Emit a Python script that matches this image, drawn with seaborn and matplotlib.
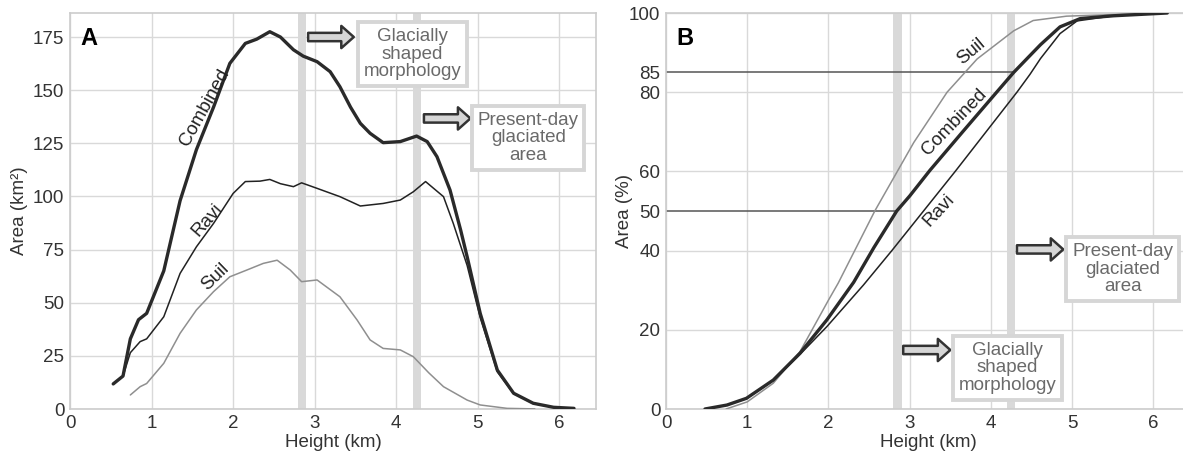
import matplotlib
matplotlib.use("Agg")
import matplotlib.pyplot as plt
import seaborn as sns
import pandas as pd

# ---------------- data ----------------
# Panel A: hypsometry, area per height bin (km2)
comb_x = [0.53, 0.65, 0.74, 0.84, 0.94, 1.15, 1.35, 1.55, 1.76, 1.96, 2.15, 2.29, 2.45, 2.58, 2.74, 2.86,
          3.03, 3.19, 3.31, 3.44, 3.56, 3.68, 3.84, 4.05, 4.25, 4.38, 4.50, 4.66, 4.79, 4.87, 5.03, 5.24,
          5.44, 5.68, 5.93, 6.18]
comb_y = [11.8, 15.5, 33, 42, 45, 65, 98, 122, 142, 162.6, 172, 174, 177.5, 175, 169, 166,
          163.4, 158.7, 151.6, 142, 134.4, 129.7, 125.3, 125.8, 128.4, 125.8, 118.7, 103, 84.2, 71.6, 45, 18.3,
          7.4, 2.7, 0.8, 0.3]

ravi_x = [0.53, 0.65, 0.74, 0.86, 0.94, 1.15, 1.35, 1.55, 1.76, 2.0, 2.15, 2.33, 2.45, 2.58, 2.74, 2.84,
          3.03, 3.31, 3.56, 3.84, 4.05, 4.21, 4.36, 4.58, 4.70, 4.87, 5.03, 5.24, 5.44, 5.68, 5.93, 6.18]
ravi_y = [11.8, 15.5, 26.5, 31.7, 33, 43.4, 63.8, 76.3, 87.3, 101.4, 107, 107.2, 108, 106, 104.6, 106.4,
          103.8, 99.9, 95.5, 96.7, 98.3, 102.2, 107, 99.9, 87.3, 67.5, 43, 17.5, 7.2, 2.6, 0.8, 0.3]

suil_x = [0.74, 0.86, 0.94, 1.15, 1.35, 1.55, 1.76, 1.96, 2.17, 2.37, 2.54, 2.70, 2.84, 3.03, 3.31, 3.52,
          3.68, 3.84, 4.05, 4.21, 4.40, 4.58, 4.87, 5.03, 5.36, 5.70]
suil_y = [6.6, 10.5, 12, 21.5, 35.6, 46.6, 55.2, 62.2, 65.4, 68.5, 70, 65.4, 59.9, 60.7, 52.8, 41.9,
          32.5, 28.5, 27.8, 24.6, 17, 10.5, 4.2, 1.9, 0.3, 0.05]

# Panel B: cumulative area (%)
b_comb_x = [0.48, 0.75, 0.99, 1.32, 1.65, 1.98, 2.31, 2.56, 2.84, 3.0, 3.25, 3.66, 4.07, 4.28, 4.44, 4.61,
            4.85, 5.10, 5.51, 6.17]
b_comb_y = [0.0, 1.0, 2.7, 7.3, 14.1, 22.5, 32, 40.8, 50, 53.8, 60.3, 70.2, 80, 85, 88.4, 92,
            96.5, 98.6, 99.3, 100]

b_ravi_x = [0.48, 0.75, 0.99, 1.32, 1.65, 1.98, 2.43, 2.78, 3.17, 3.56, 3.94, 4.32, 4.48, 4.61, 4.85, 5.06,
            5.51, 6.17]
b_ravi_y = [0.0, 1.0, 2.6, 7.2, 13.8, 20.8, 31.3, 40, 50, 60, 70, 80, 84.5, 88.5, 94.8, 98.0,
            99.3, 100]

b_suil_x = [0.74, 1.0, 1.32, 1.65, 2.0, 2.12, 2.57, 3.05, 3.46, 3.83, 4.28, 4.52, 4.93, 5.5, 6.17]
b_suil_y = [0.0, 1.8, 6.5, 14.5, 27.5, 31.8, 50, 67.3, 80, 88.4, 95.5, 98.1, 99.2, 99.6, 100]

# reference levels in panel B (percent) and heights where they meet the combined curve
ref_levels = [50, 85]
ref_heights = [2.84, 4.27]

# shaded height bands (km)
bands = [(2.8, 2.9), (4.2, 4.3)]

a_yticks = [0, 25, 50, 75, 100, 125, 150, 175]
b_yticks_major = [0, 20, 40, 60, 80, 100]
b_yticks_minor = [50, 85]
xticks = [0, 1, 2, 3, 4, 5, 6]

# ---------------- style ----------------
sns.set_theme(style="whitegrid")
plt.rcParams['font.family'] = ['Liberation Sans', 'DejaVu Sans']
plt.rcParams['axes.edgecolor'] = '#cccccc'
plt.rcParams['grid.color'] = '#d9d9d9'
plt.rcParams['text.color'] = '#333333'
plt.rcParams['axes.labelcolor'] = '#333333'
plt.rcParams['xtick.color'] = '#333333'
plt.rcParams['ytick.color'] = '#333333'

FS = 13.5
fig = plt.figure(figsize=(11.83, 4.57), dpi=100)
axA = fig.add_axes([70 / 1183, 48 / 457, 526 / 1183, 396 / 457])
axB = fig.add_axes([666 / 1183, 48 / 457, 524 / 1183, 396 / 457])

C_COMB = '#2a2a2a'
C_RAVI = '#222222'
C_SUIL = '#8f8f8f'


def series_df(x, y):
    return pd.DataFrame({'h': x, 'v': y})


def box_arrow(ax, x0, x1, y, tx, ty, text):
    ax.annotate('', xy=(x1, y), xytext=(x0, y),
                arrowprops=dict(arrowstyle='simple,head_length=0.45,head_width=0.8,tail_width=0.3',
                                fc='#d6d6d6', ec='#333333', lw=1.8, shrinkA=0, shrinkB=0,
                                mutation_scale=20), zorder=6)
    ax.text(tx, ty, text, ha='center', va='center', color='#6a6a6a', fontsize=FS,
            linespacing=1.05, zorder=7,
            bbox=dict(boxstyle='square,pad=0.3', fc='white', ec='#d6d6d6', lw=2.8))


# ---------------- panel A ----------------
ax = axA
for b0, b1 in bands:
    ax.axvspan(b0, b1, color='#d9d9d9', lw=0, zorder=1)
sns.lineplot(data=series_df(suil_x, suil_y), x='h', y='v', ax=ax, color=C_SUIL, lw=1.1, sort=False, zorder=3)
sns.lineplot(data=series_df(ravi_x, ravi_y), x='h', y='v', ax=ax, color=C_RAVI, lw=1.1, sort=False, zorder=4)
sns.lineplot(data=series_df(comb_x, comb_y), x='h', y='v', ax=ax, color=C_COMB, lw=2.4, sort=False, zorder=5)
ax.set_xlim(0, 6.45)
ax.set_ylim(0, 186.3)
ax.set_xticks(xticks)
ax.set_yticks(a_yticks)
ax.set_xlabel('Height (km)', fontsize=FS, labelpad=2)
ax.set_ylabel('Area (km²)', fontsize=FS, labelpad=4)
ax.tick_params(labelsize=FS, pad=4, length=0)
ax.text(0.019, 0.965, 'A', transform=ax.transAxes, ha='left', va='top', fontsize=17, weight='bold', color='black')
ax.text(1.65, 142, 'Combined', rotation=61, ha='center', va='center', fontsize=FS, color='#222222', zorder=6)
ax.text(1.68, 89, 'Ravi', rotation=49, ha='center', va='center', fontsize=FS, color='#222222', zorder=6)
ax.text(1.78, 62, 'Suil', rotation=44, ha='center', va='center', fontsize=FS, color='#222222', zorder=6)
box_arrow(ax, 2.92, 3.48, 175, 4.20, 167, 'Glacially\nshaped\nmorphology')
box_arrow(ax, 4.34, 4.91, 136.7, 5.62, 127.5, 'Present-day\nglaciated\narea')

# ---------------- panel B ----------------
ax = axB
for b0, b1 in bands:
    ax.axvspan(b0, b1, color='#d9d9d9', lw=0, zorder=1)
for lvl, hgt in zip(ref_levels, ref_heights):
    ax.hlines(lvl, 0, hgt, color='#555555', lw=1.1, zorder=2)
sns.lineplot(data=series_df(b_suil_x, b_suil_y), x='h', y='v', ax=ax, color=C_SUIL, lw=1.1, sort=False, zorder=3)
sns.lineplot(data=series_df(b_ravi_x, b_ravi_y), x='h', y='v', ax=ax, color=C_RAVI, lw=1.1, sort=False, zorder=4)
sns.lineplot(data=series_df(b_comb_x, b_comb_y), x='h', y='v', ax=ax, color=C_COMB, lw=2.4, sort=False, zorder=5)
ax.set_xlim(0, 6.45)
ax.set_ylim(0, 100)
ax.set_xticks(xticks)
ax.set_yticks(b_yticks_major)
ax.set_yticks(b_yticks_minor, minor=True)
ax.set_yticklabels([str(v) for v in b_yticks_minor], minor=True)
ax.grid(False, which='minor')
ax.set_xlabel('Height (km)', fontsize=FS, labelpad=2)
ax.set_ylabel('Area (%)', fontsize=FS, labelpad=-3)
ax.tick_params(which='both', labelsize=FS, pad=4, length=0)
ax.text(0.019, 0.965, 'B', transform=ax.transAxes, ha='left', va='top', fontsize=17, weight='bold', color='black')
ax.text(3.76, 90.3, 'Suil', rotation=40, ha='center', va='center', fontsize=FS, color='#222222', zorder=6)
ax.text(3.55, 72.5, 'Combined', rotation=46, ha='center', va='center', fontsize=FS, color='#222222', zorder=6)
ax.text(3.36, 50.3, 'Ravi', rotation=47, ha='center', va='center', fontsize=FS, color='#222222', zorder=6)
box_arrow(ax, 4.32, 4.89, 40.3, 5.62, 35.3, 'Present-day\nglaciated\narea')
box_arrow(ax, 2.92, 3.50, 14.9, 4.20, 10.4, 'Glacially\nshaped\nmorphology')

for a in (axA, axB):
    for s in a.spines.values():
        s.set_color('#cccccc')
        s.set_linewidth(1.2)

fig.savefig('out.png', dpi=100)
